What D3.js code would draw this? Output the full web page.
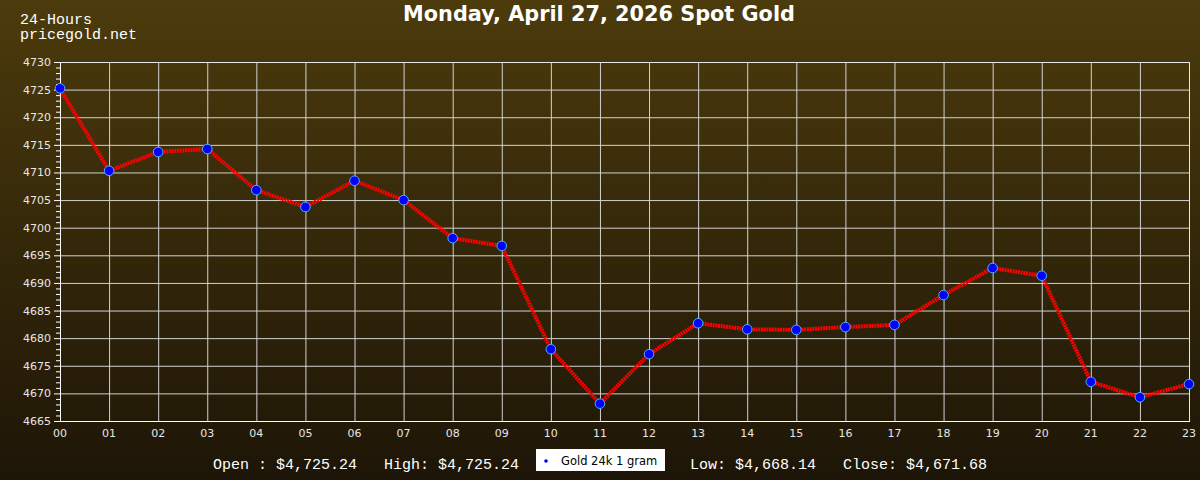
<!DOCTYPE html>
<html><head><meta charset="utf-8">
<script src="https://cdn.jsdelivr.net/npm/d3@7/dist/d3.min.js"></script>
<style>body{margin:0;background:#000}svg{display:block}</style>
</head><body>
<svg id="c" width="1200" height="480"></svg>
<script>
const hours = ["00","01","02","03","04","05","06","07","08","09","10","11","12","13","14","15","16","17","18","19","20","21","22","23"];
const prices = [4725.24,4710.3,4713.7,4714.25,4706.8,4703.75,4708.5,4705.0,4698.1,4696.7,4678.0,4668.14,4677.1,4682.7,4681.6,4681.5,4682.0,4682.4,4687.8,4692.7,4691.3,4672.1,4669.3,4671.68];
const yTicks = [4665,4670,4675,4680,4685,4690,4695,4700,4705,4710,4715,4720,4725,4730];
const titleText = "Monday, April 27, 2026 Spot Gold";
const stats = [["Open : $4,725.24",213],["High: $4,725.24",384],["Low: $4,668.14",690],["Close: $4,671.68",843]];
const legendLabel = "Gold 24k 1 gram";

const svg = d3.select("#c");
const defs = svg.append("defs");
const g = defs.append("linearGradient").attr("id","bg").attr("x1",0).attr("y1",0).attr("x2",0).attr("y2",1);
g.append("stop").attr("offset","0%").attr("stop-color","#4c3b0c");
g.append("stop").attr("offset","100%").attr("stop-color","#1d1507");
svg.append("rect").attr("width",1200).attr("height",480).attr("fill","url(#bg)");

const x = d3.scalePoint().domain(hours).range([60,1189]);
const y = d3.scaleLinear().domain([4665,4730]).range([421,62]);

// grid
svg.append("g").selectAll("line.h").data(yTicks).join("line")
  .attr("x1",60).attr("x2",1189).attr("y1",d=>y(d)+0.5).attr("y2",d=>y(d)+0.5)
  .attr("stroke","#d2d2d2").attr("stroke-width",1);
svg.append("g").selectAll("line.v").data(hours).join("line")
  .attr("x1",d=>x(d)+0.5).attr("x2",d=>x(d)+0.5).attr("y1",62).attr("y2",421)
  .attr("stroke","#d2d2d2").attr("stroke-width",1);
svg.append("rect").attr("x",60.5).attr("y",62.5).attr("width",1129).attr("height",359)
  .attr("fill","none").attr("stroke","#e8e8e8");

// y axis minor ticks
const minor = d3.range(4665,4731,1);
svg.append("g").selectAll("line").data(minor).join("line")
  .attr("x1",d=>d%5===0?54:56).attr("x2",60).attr("y1",d=>y(d)+0.5).attr("y2",d=>y(d)+0.5)
  .attr("stroke","#fff");
svg.append("line").attr("x1",60.5).attr("x2",60.5).attr("y1",62).attr("y2",421).attr("stroke","#fff");
svg.append("line").attr("x1",60).attr("x2",1190).attr("y1",421.5).attr("y2",421.5).attr("stroke","#fff");

svg.append("g").selectAll("text").data(yTicks).join("text")
  .attr("x",51).attr("y",d=>y(d)+4).attr("text-anchor","end")
  .attr("font-family","DejaVu Sans").attr("font-size",11).attr("fill","#e6e6e6").text(d=>d);
svg.append("g").selectAll("text").data(hours).join("text")
  .attr("x",d=>x(d)).attr("y",437).attr("text-anchor","middle")
  .attr("font-family","DejaVu Sans").attr("font-size",11).attr("fill","#e6e6e6").text(d=>d);

// line
const line = d3.line().x((d,i)=>x(hours[i])).y(d=>y(d));
svg.append("path").datum(prices).attr("d",line).attr("fill","none")
  .attr("stroke","#ff0000").attr("stroke-width",4).attr("stroke-dasharray","2,0.7");
svg.append("g").selectAll("circle").data(prices).join("circle")
  .attr("cx",(d,i)=>x(hours[i])).attr("cy",d=>y(d)).attr("r",4.8)
  .attr("fill","#0000ff").attr("stroke","#4fb0ff").attr("stroke-width",1);

// titles
svg.append("text").attr("x",599).attr("y",21).attr("text-anchor","middle")
  .attr("font-family","DejaVu Sans").attr("font-weight","bold").attr("font-size",20.8).attr("fill","#fff").text(titleText);
svg.append("text").attr("x",20).attr("y",24).attr("font-family","Liberation Mono").attr("font-size",15).attr("fill","#fff").text("24-Hours");
svg.append("text").attr("x",20).attr("y",39).attr("font-family","Liberation Mono").attr("font-size",15).attr("fill","#fff").text("pricegold.net");

// stats
svg.append("g").selectAll("text").data(stats).join("text")
  .attr("x",d=>d[1]).attr("y",469).attr("font-family","Liberation Mono").attr("font-size",15).attr("fill","#fff").text(d=>d[0]);

// legend
svg.append("rect").attr("x",536).attr("y",449).attr("width",129).attr("height",22).attr("fill","#fff");
svg.append("circle").attr("cx",546).attr("cy",461).attr("r",1.8).attr("fill","#0000ff");
svg.append("text").attr("x",561).attr("y",465).attr("font-family","DejaVu Sans").attr("font-size",11.5).attr("fill","#000").text(legendLabel);
</script>
</body></html>
